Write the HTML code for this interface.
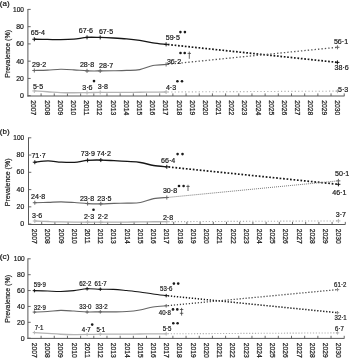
<!DOCTYPE html><html><head><meta charset="utf-8"><style>html,body{margin:0;padding:0;background:#fff;}svg{display:block;will-change:transform;}text{font-family:"Liberation Sans", sans-serif;fill:#1a1a1a;stroke:#1a1a1a;stroke-width:0.22px;}</style></head><body>
<svg width="350" height="359" viewBox="0 0 350 359">
<rect width="350" height="359" fill="#fff"/>
<text x="-0.2" y="3.80" font-size="8" dominant-baseline="central" textLength="9.8" lengthAdjust="spacingAndGlyphs">(a)</text>
<text transform="translate(8.3,53.90) rotate(-90)" text-anchor="middle" font-size="7.1" dominant-baseline="central" textLength="47.7" lengthAdjust="spacingAndGlyphs" style="stroke-width:0.2px">Prevalence (%)</text>
<path d="M27.90,9.00 V96.50" stroke="#585858" stroke-width="1" fill="none"/>
<path d="M27.90,95.70 H30.70" stroke="#585858" stroke-width="0.9"/>
<text x="20.00" y="95.70" font-size="7.3" dominant-baseline="central" textLength="3.9" lengthAdjust="spacingAndGlyphs">0</text>
<path d="M27.90,78.44 H30.70" stroke="#585858" stroke-width="0.9"/>
<text x="16.30" y="78.44" font-size="7.3" dominant-baseline="central" textLength="7.6" lengthAdjust="spacingAndGlyphs">20</text>
<path d="M27.90,61.18 H30.70" stroke="#585858" stroke-width="0.9"/>
<text x="16.30" y="61.18" font-size="7.3" dominant-baseline="central" textLength="7.6" lengthAdjust="spacingAndGlyphs">40</text>
<path d="M27.90,43.92 H30.70" stroke="#585858" stroke-width="0.9"/>
<text x="16.30" y="43.92" font-size="7.3" dominant-baseline="central" textLength="7.6" lengthAdjust="spacingAndGlyphs">60</text>
<path d="M27.90,26.66 H30.70" stroke="#585858" stroke-width="0.9"/>
<text x="16.30" y="26.66" font-size="7.3" dominant-baseline="central" textLength="7.6" lengthAdjust="spacingAndGlyphs">80</text>
<path d="M27.90,9.40 H30.70" stroke="#585858" stroke-width="0.9"/>
<text x="13.00" y="9.40" font-size="7.3" dominant-baseline="central" textLength="10.9" lengthAdjust="spacingAndGlyphs">100</text>
<path d="M27.40,96.00 H344.50" stroke="#585858" stroke-width="1" fill="none"/>
<path d="M41.08,96.00 V93.40" stroke="#585858" stroke-width="0.9"/>
<path d="M54.26,96.00 V93.40" stroke="#585858" stroke-width="0.9"/>
<path d="M67.44,96.00 V93.40" stroke="#585858" stroke-width="0.9"/>
<path d="M80.62,96.00 V93.40" stroke="#585858" stroke-width="0.9"/>
<path d="M93.80,96.00 V93.40" stroke="#585858" stroke-width="0.9"/>
<path d="M106.98,96.00 V93.40" stroke="#585858" stroke-width="0.9"/>
<path d="M120.16,96.00 V93.40" stroke="#585858" stroke-width="0.9"/>
<path d="M133.34,96.00 V93.40" stroke="#585858" stroke-width="0.9"/>
<path d="M146.52,96.00 V93.40" stroke="#585858" stroke-width="0.9"/>
<path d="M159.70,96.00 V93.40" stroke="#585858" stroke-width="0.9"/>
<path d="M172.88,96.00 V93.40" stroke="#585858" stroke-width="0.9"/>
<path d="M186.06,96.00 V93.40" stroke="#585858" stroke-width="0.9"/>
<path d="M199.24,96.00 V93.40" stroke="#585858" stroke-width="0.9"/>
<path d="M212.42,96.00 V93.40" stroke="#585858" stroke-width="0.9"/>
<path d="M225.60,96.00 V93.40" stroke="#585858" stroke-width="0.9"/>
<path d="M238.78,96.00 V93.40" stroke="#585858" stroke-width="0.9"/>
<path d="M251.96,96.00 V93.40" stroke="#585858" stroke-width="0.9"/>
<path d="M265.14,96.00 V93.40" stroke="#585858" stroke-width="0.9"/>
<path d="M278.32,96.00 V93.40" stroke="#585858" stroke-width="0.9"/>
<path d="M291.50,96.00 V93.40" stroke="#585858" stroke-width="0.9"/>
<path d="M304.68,96.00 V93.40" stroke="#585858" stroke-width="0.9"/>
<path d="M317.86,96.00 V93.40" stroke="#585858" stroke-width="0.9"/>
<path d="M331.04,96.00 V93.40" stroke="#585858" stroke-width="0.9"/>
<path d="M344.22,96.00 V93.40" stroke="#585858" stroke-width="0.9"/>
<text transform="translate(33.95,100.30) rotate(90)" font-size="7.50" dominant-baseline="central" textLength="15.0" lengthAdjust="spacingAndGlyphs">2007</text>
<text transform="translate(47.14,100.30) rotate(90)" font-size="7.50" dominant-baseline="central" textLength="15.0" lengthAdjust="spacingAndGlyphs">2008</text>
<text transform="translate(60.33,100.30) rotate(90)" font-size="7.50" dominant-baseline="central" textLength="15.0" lengthAdjust="spacingAndGlyphs">2009</text>
<text transform="translate(73.52,100.30) rotate(90)" font-size="7.50" dominant-baseline="central" textLength="15.0" lengthAdjust="spacingAndGlyphs">2010</text>
<text transform="translate(86.71,100.30) rotate(90)" font-size="7.50" dominant-baseline="central" textLength="15.0" lengthAdjust="spacingAndGlyphs">2011</text>
<text transform="translate(99.90,100.30) rotate(90)" font-size="7.50" dominant-baseline="central" textLength="15.0" lengthAdjust="spacingAndGlyphs">2012</text>
<text transform="translate(113.09,100.30) rotate(90)" font-size="7.50" dominant-baseline="central" textLength="15.0" lengthAdjust="spacingAndGlyphs">2013</text>
<text transform="translate(126.28,100.30) rotate(90)" font-size="7.50" dominant-baseline="central" textLength="15.0" lengthAdjust="spacingAndGlyphs">2014</text>
<text transform="translate(139.47,100.30) rotate(90)" font-size="7.50" dominant-baseline="central" textLength="15.0" lengthAdjust="spacingAndGlyphs">2015</text>
<text transform="translate(152.66,100.30) rotate(90)" font-size="7.50" dominant-baseline="central" textLength="15.0" lengthAdjust="spacingAndGlyphs">2016</text>
<text transform="translate(165.85,100.30) rotate(90)" font-size="7.50" dominant-baseline="central" textLength="15.0" lengthAdjust="spacingAndGlyphs">2017</text>
<text transform="translate(179.04,100.30) rotate(90)" font-size="7.50" dominant-baseline="central" textLength="15.0" lengthAdjust="spacingAndGlyphs">2018</text>
<text transform="translate(192.23,100.30) rotate(90)" font-size="7.50" dominant-baseline="central" textLength="15.0" lengthAdjust="spacingAndGlyphs">2019</text>
<text transform="translate(205.42,100.30) rotate(90)" font-size="7.50" dominant-baseline="central" textLength="15.0" lengthAdjust="spacingAndGlyphs">2020</text>
<text transform="translate(218.61,100.30) rotate(90)" font-size="7.50" dominant-baseline="central" textLength="15.0" lengthAdjust="spacingAndGlyphs">2021</text>
<text transform="translate(231.80,100.30) rotate(90)" font-size="7.50" dominant-baseline="central" textLength="15.0" lengthAdjust="spacingAndGlyphs">2022</text>
<text transform="translate(244.99,100.30) rotate(90)" font-size="7.50" dominant-baseline="central" textLength="15.0" lengthAdjust="spacingAndGlyphs">2023</text>
<text transform="translate(258.18,100.30) rotate(90)" font-size="7.50" dominant-baseline="central" textLength="15.0" lengthAdjust="spacingAndGlyphs">2024</text>
<text transform="translate(271.37,100.30) rotate(90)" font-size="7.50" dominant-baseline="central" textLength="15.0" lengthAdjust="spacingAndGlyphs">2025</text>
<text transform="translate(284.56,100.30) rotate(90)" font-size="7.50" dominant-baseline="central" textLength="15.0" lengthAdjust="spacingAndGlyphs">2026</text>
<text transform="translate(297.75,100.30) rotate(90)" font-size="7.50" dominant-baseline="central" textLength="15.0" lengthAdjust="spacingAndGlyphs">2027</text>
<text transform="translate(310.94,100.30) rotate(90)" font-size="7.50" dominant-baseline="central" textLength="15.0" lengthAdjust="spacingAndGlyphs">2028</text>
<text transform="translate(324.13,100.30) rotate(90)" font-size="7.50" dominant-baseline="central" textLength="15.0" lengthAdjust="spacingAndGlyphs">2029</text>
<text transform="translate(337.32,100.30) rotate(90)" font-size="7.50" dominant-baseline="central" textLength="15.0" lengthAdjust="spacingAndGlyphs">2030</text>
<path d="M34.30,39.26 C36.50,39.29 43.09,39.36 47.48,39.43 C51.87,39.50 56.27,39.73 60.66,39.69 C65.05,39.65 69.45,39.56 73.84,39.17 C78.23,38.79 82.63,37.65 87.02,37.36 C91.41,37.07 95.81,37.35 100.20,37.45 C104.59,37.55 108.99,37.74 113.38,37.97 C117.77,38.20 122.17,38.43 126.56,38.83 C130.95,39.23 135.35,39.72 139.74,40.38 C144.13,41.04 148.53,42.14 152.92,42.80 C157.31,43.46 163.90,44.09 166.10,44.35" stroke="#151515" stroke-width="1.35" fill="none"/>
<path d="M167.80,44.53 L337.44,62.39" stroke="#151515" stroke-width="1.70" stroke-dasharray="1.7 1.73" fill="none"/>
<path d="M32.30,39.26 H36.30 M34.30,37.26 V41.26" stroke="#151515" stroke-width="1"/>
<path d="M85.02,37.36 H89.02 M87.02,35.36 V39.36" stroke="#151515" stroke-width="1"/>
<path d="M98.20,37.45 H102.20 M100.20,35.45 V39.45" stroke="#151515" stroke-width="1"/>
<path d="M164.10,44.35 H168.10 M166.10,42.35 V46.35" stroke="#151515" stroke-width="1"/>
<path d="M335.44,62.39 H339.44 M337.44,60.39 V64.39" stroke="#151515" stroke-width="1"/>
<path d="M34.30,70.50 C36.50,70.44 43.09,70.36 47.48,70.16 C51.87,69.95 56.27,69.35 60.66,69.29 C65.05,69.23 69.45,69.55 73.84,69.81 C78.23,70.07 82.63,70.66 87.02,70.85 C91.41,71.03 95.81,70.95 100.20,70.93 C104.59,70.92 108.99,70.85 113.38,70.76 C117.77,70.67 122.17,70.60 126.56,70.41 C130.95,70.23 135.35,70.46 139.74,69.64 C144.13,68.82 148.53,66.36 152.92,65.50 C157.31,64.63 163.90,64.63 166.10,64.46" stroke="#656565" stroke-width="1.15" fill="none"/>
<path d="M167.80,64.29 L337.44,47.29" stroke="#555555" stroke-width="1.30" stroke-dasharray="1.4 2.03" fill="none"/>
<path d="M32.30,70.50 H36.30 M34.30,68.50 V72.50" stroke="#656565" stroke-width="1"/>
<path d="M85.02,70.85 H89.02 M87.02,68.85 V72.85" stroke="#656565" stroke-width="1"/>
<path d="M98.20,70.93 H102.20 M100.20,68.93 V72.93" stroke="#656565" stroke-width="1"/>
<path d="M164.10,64.46 H168.10 M166.10,62.46 V66.46" stroke="#656565" stroke-width="1"/>
<path d="M335.44,47.29 H339.44 M337.44,45.29 V49.29" stroke="#656565" stroke-width="1"/>
<path d="M34.30,90.95 C36.50,91.08 43.09,91.46 47.48,91.73 C51.87,92.00 56.27,92.42 60.66,92.59 C65.05,92.77 69.45,92.77 73.84,92.77 C78.23,92.77 82.63,92.65 87.02,92.59 C91.41,92.54 95.81,92.45 100.20,92.42 C104.59,92.39 108.99,92.43 113.38,92.42 C117.77,92.41 122.17,92.36 126.56,92.33 C130.95,92.31 135.35,92.29 139.74,92.25 C144.13,92.20 148.53,92.12 152.92,92.08 C157.31,92.03 163.90,92.00 166.10,91.99" stroke="#b4b4b4" stroke-width="1.30" fill="none"/>
<path d="M167.80,91.98 L337.44,91.13" stroke="#b0b0b0" stroke-width="1.10" stroke-dasharray="1.2 2.23" fill="none"/>
<path d="M32.30,90.95 H36.30 M34.30,88.95 V92.95" stroke="#b4b4b4" stroke-width="1"/>
<path d="M85.02,92.59 H89.02 M87.02,90.59 V94.59" stroke="#b4b4b4" stroke-width="1"/>
<path d="M98.20,92.42 H102.20 M100.20,90.42 V94.42" stroke="#b4b4b4" stroke-width="1"/>
<path d="M164.10,91.99 H168.10 M166.10,89.99 V93.99" stroke="#b4b4b4" stroke-width="1"/>
<path d="M335.44,91.13 H339.44 M337.44,89.13 V93.13" stroke="#b4b4b4" stroke-width="1"/>
<text x="30.80" y="32.50" font-size="7.60" dominant-baseline="central" textLength="14.21" lengthAdjust="spacingAndGlyphs">65·4</text>
<text x="78.80" y="30.55" font-size="7.60" dominant-baseline="central" textLength="14.21" lengthAdjust="spacingAndGlyphs">67·6</text>
<text x="98.90" y="31.10" font-size="7.60" dominant-baseline="central" textLength="14.21" lengthAdjust="spacingAndGlyphs">67·5</text>
<text x="165.70" y="37.80" font-size="7.60" dominant-baseline="central" textLength="14.21" lengthAdjust="spacingAndGlyphs">59·5</text>
<text x="32.10" y="64.50" font-size="7.60" dominant-baseline="central" textLength="14.21" lengthAdjust="spacingAndGlyphs">29·2</text>
<text x="79.90" y="64.30" font-size="7.60" dominant-baseline="central" textLength="14.21" lengthAdjust="spacingAndGlyphs">28·8</text>
<text x="99.10" y="65.60" font-size="7.60" dominant-baseline="central" textLength="14.21" lengthAdjust="spacingAndGlyphs">28·7</text>
<text x="166.90" y="61.10" font-size="7.60" dominant-baseline="central" textLength="14.21" lengthAdjust="spacingAndGlyphs">36·2</text>
<text x="32.90" y="86.60" font-size="7.60" dominant-baseline="central" textLength="10.26" lengthAdjust="spacingAndGlyphs">5·5</text>
<text x="82.30" y="87.40" font-size="7.60" dominant-baseline="central" textLength="10.26" lengthAdjust="spacingAndGlyphs">3·6</text>
<text x="97.80" y="86.40" font-size="7.60" dominant-baseline="central" textLength="10.26" lengthAdjust="spacingAndGlyphs">3·8</text>
<text x="165.90" y="87.50" font-size="7.60" dominant-baseline="central" textLength="10.26" lengthAdjust="spacingAndGlyphs">4·3</text>
<text x="333.90" y="41.20" font-size="7.60" dominant-baseline="central" textLength="14.21" lengthAdjust="spacingAndGlyphs">56·1</text>
<text x="334.60" y="67.90" font-size="7.60" dominant-baseline="central" textLength="14.21" lengthAdjust="spacingAndGlyphs">38·6</text>
<text x="338.00" y="89.00" font-size="7.60" dominant-baseline="central" textLength="10.26" lengthAdjust="spacingAndGlyphs">5·3</text>
<circle cx="180.40" cy="32.10" r="1.3" fill="#1a1a1a"/>
<circle cx="184.90" cy="32.10" r="1.3" fill="#1a1a1a"/>
<circle cx="180.50" cy="53.00" r="1.3" fill="#1a1a1a"/>
<circle cx="184.70" cy="53.00" r="1.3" fill="#1a1a1a"/>
<circle cx="177.40" cy="81.30" r="1.3" fill="#1a1a1a"/>
<circle cx="182.00" cy="81.30" r="1.3" fill="#1a1a1a"/>
<circle cx="94.00" cy="81.10" r="1.3" fill="#1a1a1a"/>
<path d="M189.30,51.60 V58.80 M187.60,53.40 H191.00" stroke="#333" stroke-width="0.75" fill="none"/>
<text x="-0.2" y="131.30" font-size="8" dominant-baseline="central" textLength="9.8" lengthAdjust="spacingAndGlyphs">(b)</text>
<text transform="translate(8.3,182.40) rotate(-90)" text-anchor="middle" font-size="7.1" dominant-baseline="central" textLength="47.7" lengthAdjust="spacingAndGlyphs" style="stroke-width:0.2px">Prevalence (%)</text>
<path d="M28.50,137.40 V225.00" stroke="#585858" stroke-width="1" fill="none"/>
<path d="M28.50,224.10 H31.30" stroke="#585858" stroke-width="0.9"/>
<text x="20.30" y="223.70" font-size="7.3" dominant-baseline="central" textLength="3.9" lengthAdjust="spacingAndGlyphs">0</text>
<path d="M28.50,206.84 H31.30" stroke="#585858" stroke-width="0.9"/>
<text x="16.60" y="206.44" font-size="7.3" dominant-baseline="central" textLength="7.6" lengthAdjust="spacingAndGlyphs">20</text>
<path d="M28.50,189.58 H31.30" stroke="#585858" stroke-width="0.9"/>
<text x="16.60" y="189.18" font-size="7.3" dominant-baseline="central" textLength="7.6" lengthAdjust="spacingAndGlyphs">40</text>
<path d="M28.50,172.32 H31.30" stroke="#585858" stroke-width="0.9"/>
<text x="16.60" y="171.92" font-size="7.3" dominant-baseline="central" textLength="7.6" lengthAdjust="spacingAndGlyphs">60</text>
<path d="M28.50,155.06 H31.30" stroke="#585858" stroke-width="0.9"/>
<text x="16.60" y="154.66" font-size="7.3" dominant-baseline="central" textLength="7.6" lengthAdjust="spacingAndGlyphs">80</text>
<path d="M28.50,137.80 H31.30" stroke="#585858" stroke-width="0.9"/>
<text x="13.30" y="137.40" font-size="7.3" dominant-baseline="central" textLength="10.9" lengthAdjust="spacingAndGlyphs">100</text>
<path d="M28.00,224.50 H345.30" stroke="#585858" stroke-width="1" fill="none"/>
<path d="M41.70,224.50 V221.90" stroke="#585858" stroke-width="0.9"/>
<path d="M54.90,224.50 V221.90" stroke="#585858" stroke-width="0.9"/>
<path d="M68.10,224.50 V221.90" stroke="#585858" stroke-width="0.9"/>
<path d="M81.30,224.50 V221.90" stroke="#585858" stroke-width="0.9"/>
<path d="M94.50,224.50 V221.90" stroke="#585858" stroke-width="0.9"/>
<path d="M107.70,224.50 V221.90" stroke="#585858" stroke-width="0.9"/>
<path d="M120.90,224.50 V221.90" stroke="#585858" stroke-width="0.9"/>
<path d="M134.10,224.50 V221.90" stroke="#585858" stroke-width="0.9"/>
<path d="M147.30,224.50 V221.90" stroke="#585858" stroke-width="0.9"/>
<path d="M160.50,224.50 V221.90" stroke="#585858" stroke-width="0.9"/>
<path d="M173.70,224.50 V221.90" stroke="#585858" stroke-width="0.9"/>
<path d="M186.90,224.50 V221.90" stroke="#585858" stroke-width="0.9"/>
<path d="M200.10,224.50 V221.90" stroke="#585858" stroke-width="0.9"/>
<path d="M213.30,224.50 V221.90" stroke="#585858" stroke-width="0.9"/>
<path d="M226.50,224.50 V221.90" stroke="#585858" stroke-width="0.9"/>
<path d="M239.70,224.50 V221.90" stroke="#585858" stroke-width="0.9"/>
<path d="M252.90,224.50 V221.90" stroke="#585858" stroke-width="0.9"/>
<path d="M266.10,224.50 V221.90" stroke="#585858" stroke-width="0.9"/>
<path d="M279.30,224.50 V221.90" stroke="#585858" stroke-width="0.9"/>
<path d="M292.50,224.50 V221.90" stroke="#585858" stroke-width="0.9"/>
<path d="M305.70,224.50 V221.90" stroke="#585858" stroke-width="0.9"/>
<path d="M318.90,224.50 V221.90" stroke="#585858" stroke-width="0.9"/>
<path d="M332.10,224.50 V221.90" stroke="#585858" stroke-width="0.9"/>
<path d="M345.30,224.50 V221.90" stroke="#585858" stroke-width="0.9"/>
<text transform="translate(34.60,228.70) rotate(90)" font-size="7.50" dominant-baseline="central" textLength="15.0" lengthAdjust="spacingAndGlyphs">2007</text>
<text transform="translate(47.83,228.70) rotate(90)" font-size="7.50" dominant-baseline="central" textLength="15.0" lengthAdjust="spacingAndGlyphs">2008</text>
<text transform="translate(61.06,228.70) rotate(90)" font-size="7.50" dominant-baseline="central" textLength="15.0" lengthAdjust="spacingAndGlyphs">2009</text>
<text transform="translate(74.29,228.70) rotate(90)" font-size="7.50" dominant-baseline="central" textLength="15.0" lengthAdjust="spacingAndGlyphs">2010</text>
<text transform="translate(87.52,228.70) rotate(90)" font-size="7.50" dominant-baseline="central" textLength="15.0" lengthAdjust="spacingAndGlyphs">2011</text>
<text transform="translate(100.75,228.70) rotate(90)" font-size="7.50" dominant-baseline="central" textLength="15.0" lengthAdjust="spacingAndGlyphs">2012</text>
<text transform="translate(113.98,228.70) rotate(90)" font-size="7.50" dominant-baseline="central" textLength="15.0" lengthAdjust="spacingAndGlyphs">2013</text>
<text transform="translate(127.21,228.70) rotate(90)" font-size="7.50" dominant-baseline="central" textLength="15.0" lengthAdjust="spacingAndGlyphs">2014</text>
<text transform="translate(140.44,228.70) rotate(90)" font-size="7.50" dominant-baseline="central" textLength="15.0" lengthAdjust="spacingAndGlyphs">2015</text>
<text transform="translate(153.67,228.70) rotate(90)" font-size="7.50" dominant-baseline="central" textLength="15.0" lengthAdjust="spacingAndGlyphs">2016</text>
<text transform="translate(166.90,228.70) rotate(90)" font-size="7.50" dominant-baseline="central" textLength="15.0" lengthAdjust="spacingAndGlyphs">2017</text>
<text transform="translate(180.13,228.70) rotate(90)" font-size="7.50" dominant-baseline="central" textLength="15.0" lengthAdjust="spacingAndGlyphs">2018</text>
<text transform="translate(193.36,228.70) rotate(90)" font-size="7.50" dominant-baseline="central" textLength="15.0" lengthAdjust="spacingAndGlyphs">2019</text>
<text transform="translate(206.59,228.70) rotate(90)" font-size="7.50" dominant-baseline="central" textLength="15.0" lengthAdjust="spacingAndGlyphs">2020</text>
<text transform="translate(219.82,228.70) rotate(90)" font-size="7.50" dominant-baseline="central" textLength="15.0" lengthAdjust="spacingAndGlyphs">2021</text>
<text transform="translate(233.05,228.70) rotate(90)" font-size="7.50" dominant-baseline="central" textLength="15.0" lengthAdjust="spacingAndGlyphs">2022</text>
<text transform="translate(246.28,228.70) rotate(90)" font-size="7.50" dominant-baseline="central" textLength="15.0" lengthAdjust="spacingAndGlyphs">2023</text>
<text transform="translate(259.51,228.70) rotate(90)" font-size="7.50" dominant-baseline="central" textLength="15.0" lengthAdjust="spacingAndGlyphs">2024</text>
<text transform="translate(272.74,228.70) rotate(90)" font-size="7.50" dominant-baseline="central" textLength="15.0" lengthAdjust="spacingAndGlyphs">2025</text>
<text transform="translate(285.97,228.70) rotate(90)" font-size="7.50" dominant-baseline="central" textLength="15.0" lengthAdjust="spacingAndGlyphs">2026</text>
<text transform="translate(299.20,228.70) rotate(90)" font-size="7.50" dominant-baseline="central" textLength="15.0" lengthAdjust="spacingAndGlyphs">2027</text>
<text transform="translate(312.43,228.70) rotate(90)" font-size="7.50" dominant-baseline="central" textLength="15.0" lengthAdjust="spacingAndGlyphs">2028</text>
<text transform="translate(325.66,228.70) rotate(90)" font-size="7.50" dominant-baseline="central" textLength="15.0" lengthAdjust="spacingAndGlyphs">2029</text>
<text transform="translate(338.89,228.70) rotate(90)" font-size="7.50" dominant-baseline="central" textLength="15.0" lengthAdjust="spacingAndGlyphs">2030</text>
<path d="M34.80,162.22 C37.00,162.01 43.60,160.94 48.00,160.93 C52.40,160.91 56.80,161.91 61.20,162.14 C65.60,162.37 70.00,162.61 74.40,162.31 C78.80,162.01 83.20,160.70 87.60,160.32 C92.00,159.95 96.40,160.01 100.80,160.07 C105.20,160.12 109.60,160.44 114.00,160.67 C118.40,160.90 122.80,161.14 127.20,161.45 C131.60,161.75 136.00,161.81 140.40,162.48 C144.80,163.16 149.20,164.78 153.60,165.50 C158.00,166.22 164.60,166.58 166.80,166.80" stroke="#151515" stroke-width="1.35" fill="none"/>
<path d="M168.50,166.97 L338.40,184.32" stroke="#151515" stroke-width="1.70" stroke-dasharray="1.7 1.79" fill="none"/>
<path d="M32.80,162.22 H36.80 M34.80,160.22 V164.22" stroke="#151515" stroke-width="1"/>
<path d="M85.60,160.32 H89.60 M87.60,158.32 V162.32" stroke="#151515" stroke-width="1"/>
<path d="M98.80,160.07 H102.80 M100.80,158.07 V162.07" stroke="#151515" stroke-width="1"/>
<path d="M164.80,166.80 H168.80 M166.80,164.80 V168.80" stroke="#151515" stroke-width="1"/>
<path d="M336.40,184.32 H340.40 M338.40,182.32 V186.32" stroke="#151515" stroke-width="1"/>
<path d="M34.80,202.70 C37.00,202.64 43.60,202.50 48.00,202.35 C52.40,202.21 56.80,201.81 61.20,201.83 C65.60,201.86 70.00,202.24 74.40,202.53 C78.80,202.81 83.20,203.34 87.60,203.56 C92.00,203.78 96.40,203.85 100.80,203.82 C105.20,203.79 109.60,203.50 114.00,203.39 C118.40,203.27 122.80,203.27 127.20,203.13 C131.60,202.99 136.00,203.27 140.40,202.53 C144.80,201.78 149.20,199.48 153.60,198.64 C158.00,197.81 164.60,197.71 166.80,197.52" stroke="#656565" stroke-width="1.15" fill="none"/>
<path d="M168.50,197.35 L338.40,180.86" stroke="#777777" stroke-width="1.00" stroke-dasharray="1.0 1.0" fill="none"/>
<path d="M32.80,202.70 H36.80 M34.80,200.70 V204.70" stroke="#656565" stroke-width="1"/>
<path d="M85.60,203.56 H89.60 M87.60,201.56 V205.56" stroke="#656565" stroke-width="1"/>
<path d="M98.80,203.82 H102.80 M100.80,201.82 V205.82" stroke="#656565" stroke-width="1"/>
<path d="M164.80,197.52 H168.80 M166.80,195.52 V199.52" stroke="#656565" stroke-width="1"/>
<path d="M336.40,180.86 H340.40 M338.40,178.86 V182.86" stroke="#656565" stroke-width="1"/>
<path d="M34.80,220.99 C37.00,221.08 43.60,221.35 48.00,221.51 C52.40,221.67 56.80,221.84 61.20,221.94 C65.60,222.04 70.00,222.09 74.40,222.12 C78.80,222.14 83.20,222.10 87.60,222.12 C92.00,222.13 96.40,222.20 100.80,222.20 C105.20,222.20 109.60,222.14 114.00,222.12 C118.40,222.09 122.80,222.06 127.20,222.03 C131.60,222.00 136.00,221.99 140.40,221.94 C144.80,221.90 149.20,221.81 153.60,221.77 C158.00,221.73 164.60,221.70 166.80,221.68" stroke="#b4b4b4" stroke-width="1.30" fill="none"/>
<path d="M168.50,221.68 L338.40,220.91" stroke="#b0b0b0" stroke-width="1.10" stroke-dasharray="1.2 1.9" fill="none"/>
<path d="M32.80,220.99 H36.80 M34.80,218.99 V222.99" stroke="#b4b4b4" stroke-width="1"/>
<path d="M85.60,222.12 H89.60 M87.60,220.12 V224.12" stroke="#b4b4b4" stroke-width="1"/>
<path d="M98.80,222.20 H102.80 M100.80,220.20 V224.20" stroke="#b4b4b4" stroke-width="1"/>
<path d="M164.80,221.68 H168.80 M166.80,219.68 V223.68" stroke="#b4b4b4" stroke-width="1"/>
<path d="M336.40,220.91 H340.40 M338.40,218.91 V222.91" stroke="#b4b4b4" stroke-width="1"/>
<text x="31.40" y="155.50" font-size="7.60" dominant-baseline="central" textLength="14.21" lengthAdjust="spacingAndGlyphs">71·7</text>
<text x="80.70" y="153.10" font-size="7.60" dominant-baseline="central" textLength="14.21" lengthAdjust="spacingAndGlyphs">73·9</text>
<text x="96.70" y="153.10" font-size="7.60" dominant-baseline="central" textLength="14.21" lengthAdjust="spacingAndGlyphs">74·2</text>
<text x="161.10" y="160.90" font-size="7.60" dominant-baseline="central" textLength="14.21" lengthAdjust="spacingAndGlyphs">66·4</text>
<text x="31.00" y="196.50" font-size="7.60" dominant-baseline="central" textLength="14.21" lengthAdjust="spacingAndGlyphs">24·8</text>
<text x="79.90" y="198.60" font-size="7.60" dominant-baseline="central" textLength="14.21" lengthAdjust="spacingAndGlyphs">23·8</text>
<text x="97.30" y="198.60" font-size="7.60" dominant-baseline="central" textLength="14.21" lengthAdjust="spacingAndGlyphs">23·5</text>
<text x="162.90" y="190.90" font-size="7.60" dominant-baseline="central" textLength="14.21" lengthAdjust="spacingAndGlyphs">30·8</text>
<text x="32.00" y="215.50" font-size="7.60" dominant-baseline="central" textLength="10.26" lengthAdjust="spacingAndGlyphs">3·6</text>
<text x="83.90" y="216.90" font-size="7.60" dominant-baseline="central" textLength="10.26" lengthAdjust="spacingAndGlyphs">2·3</text>
<text x="97.80" y="216.90" font-size="7.60" dominant-baseline="central" textLength="10.26" lengthAdjust="spacingAndGlyphs">2·2</text>
<text x="162.90" y="217.10" font-size="7.60" dominant-baseline="central" textLength="10.26" lengthAdjust="spacingAndGlyphs">2·8</text>
<text x="335.10" y="173.60" font-size="7.60" dominant-baseline="central" textLength="14.21" lengthAdjust="spacingAndGlyphs">50·1</text>
<text x="332.20" y="192.20" font-size="7.60" dominant-baseline="central" textLength="14.21" lengthAdjust="spacingAndGlyphs">46·1</text>
<text x="335.70" y="214.60" font-size="7.60" dominant-baseline="central" textLength="10.26" lengthAdjust="spacingAndGlyphs">3·7</text>
<circle cx="177.60" cy="154.10" r="1.3" fill="#1a1a1a"/>
<circle cx="182.50" cy="154.10" r="1.3" fill="#1a1a1a"/>
<circle cx="179.00" cy="186.00" r="1.3" fill="#1a1a1a"/>
<circle cx="183.60" cy="186.00" r="1.3" fill="#1a1a1a"/>
<circle cx="93.50" cy="209.70" r="1.3" fill="#1a1a1a"/>
<path d="M188.00,184.80 V191.00 M186.30,186.40 H189.70" stroke="#333" stroke-width="0.75" fill="none"/>
<text x="-0.2" y="256.90" font-size="8" dominant-baseline="central" textLength="9.8" lengthAdjust="spacingAndGlyphs">(c)</text>
<text transform="translate(8.3,298.90) rotate(-90)" text-anchor="middle" font-size="7.1" dominant-baseline="central" textLength="47.7" lengthAdjust="spacingAndGlyphs" style="stroke-width:0.2px">Prevalence (%)</text>
<path d="M27.90,258.40 V338.90" stroke="#585858" stroke-width="1" fill="none"/>
<path d="M27.90,338.20 H30.70" stroke="#585858" stroke-width="0.9"/>
<text x="20.80" y="338.20" font-size="7.3" dominant-baseline="central" textLength="3.9" lengthAdjust="spacingAndGlyphs">0</text>
<path d="M27.90,322.32 H30.70" stroke="#585858" stroke-width="0.9"/>
<text x="17.10" y="322.32" font-size="7.3" dominant-baseline="central" textLength="7.6" lengthAdjust="spacingAndGlyphs">20</text>
<path d="M27.90,306.44 H30.70" stroke="#585858" stroke-width="0.9"/>
<text x="17.10" y="306.44" font-size="7.3" dominant-baseline="central" textLength="7.6" lengthAdjust="spacingAndGlyphs">40</text>
<path d="M27.90,290.56 H30.70" stroke="#585858" stroke-width="0.9"/>
<text x="17.10" y="290.56" font-size="7.3" dominant-baseline="central" textLength="7.6" lengthAdjust="spacingAndGlyphs">60</text>
<path d="M27.90,274.68 H30.70" stroke="#585858" stroke-width="0.9"/>
<text x="17.10" y="274.68" font-size="7.3" dominant-baseline="central" textLength="7.6" lengthAdjust="spacingAndGlyphs">80</text>
<path d="M27.90,258.80 H30.70" stroke="#585858" stroke-width="0.9"/>
<text x="13.80" y="258.80" font-size="7.3" dominant-baseline="central" textLength="10.9" lengthAdjust="spacingAndGlyphs">100</text>
<path d="M27.40,338.40 H344.40" stroke="#585858" stroke-width="1" fill="none"/>
<path d="M41.08,338.40 V335.80" stroke="#585858" stroke-width="0.9"/>
<path d="M54.26,338.40 V335.80" stroke="#585858" stroke-width="0.9"/>
<path d="M67.44,338.40 V335.80" stroke="#585858" stroke-width="0.9"/>
<path d="M80.62,338.40 V335.80" stroke="#585858" stroke-width="0.9"/>
<path d="M93.80,338.40 V335.80" stroke="#585858" stroke-width="0.9"/>
<path d="M106.98,338.40 V335.80" stroke="#585858" stroke-width="0.9"/>
<path d="M120.16,338.40 V335.80" stroke="#585858" stroke-width="0.9"/>
<path d="M133.34,338.40 V335.80" stroke="#585858" stroke-width="0.9"/>
<path d="M146.52,338.40 V335.80" stroke="#585858" stroke-width="0.9"/>
<path d="M159.70,338.40 V335.80" stroke="#585858" stroke-width="0.9"/>
<path d="M172.88,338.40 V335.80" stroke="#585858" stroke-width="0.9"/>
<path d="M186.06,338.40 V335.80" stroke="#585858" stroke-width="0.9"/>
<path d="M199.24,338.40 V335.80" stroke="#585858" stroke-width="0.9"/>
<path d="M212.42,338.40 V335.80" stroke="#585858" stroke-width="0.9"/>
<path d="M225.60,338.40 V335.80" stroke="#585858" stroke-width="0.9"/>
<path d="M238.78,338.40 V335.80" stroke="#585858" stroke-width="0.9"/>
<path d="M251.96,338.40 V335.80" stroke="#585858" stroke-width="0.9"/>
<path d="M265.14,338.40 V335.80" stroke="#585858" stroke-width="0.9"/>
<path d="M278.32,338.40 V335.80" stroke="#585858" stroke-width="0.9"/>
<path d="M291.50,338.40 V335.80" stroke="#585858" stroke-width="0.9"/>
<path d="M304.68,338.40 V335.80" stroke="#585858" stroke-width="0.9"/>
<path d="M317.86,338.40 V335.80" stroke="#585858" stroke-width="0.9"/>
<path d="M331.04,338.40 V335.80" stroke="#585858" stroke-width="0.9"/>
<path d="M344.22,338.40 V335.80" stroke="#585858" stroke-width="0.9"/>
<text transform="translate(34.40,342.80) rotate(90)" font-size="7.50" dominant-baseline="central" textLength="15.0" lengthAdjust="spacingAndGlyphs">2007</text>
<text transform="translate(47.63,342.80) rotate(90)" font-size="7.50" dominant-baseline="central" textLength="15.0" lengthAdjust="spacingAndGlyphs">2008</text>
<text transform="translate(60.86,342.80) rotate(90)" font-size="7.50" dominant-baseline="central" textLength="15.0" lengthAdjust="spacingAndGlyphs">2009</text>
<text transform="translate(74.09,342.80) rotate(90)" font-size="7.50" dominant-baseline="central" textLength="15.0" lengthAdjust="spacingAndGlyphs">2010</text>
<text transform="translate(87.32,342.80) rotate(90)" font-size="7.50" dominant-baseline="central" textLength="15.0" lengthAdjust="spacingAndGlyphs">2011</text>
<text transform="translate(100.55,342.80) rotate(90)" font-size="7.50" dominant-baseline="central" textLength="15.0" lengthAdjust="spacingAndGlyphs">2012</text>
<text transform="translate(113.78,342.80) rotate(90)" font-size="7.50" dominant-baseline="central" textLength="15.0" lengthAdjust="spacingAndGlyphs">2013</text>
<text transform="translate(127.01,342.80) rotate(90)" font-size="7.50" dominant-baseline="central" textLength="15.0" lengthAdjust="spacingAndGlyphs">2014</text>
<text transform="translate(140.24,342.80) rotate(90)" font-size="7.50" dominant-baseline="central" textLength="15.0" lengthAdjust="spacingAndGlyphs">2015</text>
<text transform="translate(153.47,342.80) rotate(90)" font-size="7.50" dominant-baseline="central" textLength="15.0" lengthAdjust="spacingAndGlyphs">2016</text>
<text transform="translate(166.70,342.80) rotate(90)" font-size="7.50" dominant-baseline="central" textLength="15.0" lengthAdjust="spacingAndGlyphs">2017</text>
<text transform="translate(179.93,342.80) rotate(90)" font-size="7.50" dominant-baseline="central" textLength="15.0" lengthAdjust="spacingAndGlyphs">2018</text>
<text transform="translate(193.16,342.80) rotate(90)" font-size="7.50" dominant-baseline="central" textLength="15.0" lengthAdjust="spacingAndGlyphs">2019</text>
<text transform="translate(206.39,342.80) rotate(90)" font-size="7.50" dominant-baseline="central" textLength="15.0" lengthAdjust="spacingAndGlyphs">2020</text>
<text transform="translate(219.62,342.80) rotate(90)" font-size="7.50" dominant-baseline="central" textLength="15.0" lengthAdjust="spacingAndGlyphs">2021</text>
<text transform="translate(232.85,342.80) rotate(90)" font-size="7.50" dominant-baseline="central" textLength="15.0" lengthAdjust="spacingAndGlyphs">2022</text>
<text transform="translate(246.08,342.80) rotate(90)" font-size="7.50" dominant-baseline="central" textLength="15.0" lengthAdjust="spacingAndGlyphs">2023</text>
<text transform="translate(259.31,342.80) rotate(90)" font-size="7.50" dominant-baseline="central" textLength="15.0" lengthAdjust="spacingAndGlyphs">2024</text>
<text transform="translate(272.54,342.80) rotate(90)" font-size="7.50" dominant-baseline="central" textLength="15.0" lengthAdjust="spacingAndGlyphs">2025</text>
<text transform="translate(285.77,342.80) rotate(90)" font-size="7.50" dominant-baseline="central" textLength="15.0" lengthAdjust="spacingAndGlyphs">2026</text>
<text transform="translate(299.00,342.80) rotate(90)" font-size="7.50" dominant-baseline="central" textLength="15.0" lengthAdjust="spacingAndGlyphs">2027</text>
<text transform="translate(312.23,342.80) rotate(90)" font-size="7.50" dominant-baseline="central" textLength="15.0" lengthAdjust="spacingAndGlyphs">2028</text>
<text transform="translate(325.46,342.80) rotate(90)" font-size="7.50" dominant-baseline="central" textLength="15.0" lengthAdjust="spacingAndGlyphs">2029</text>
<text transform="translate(338.69,342.80) rotate(90)" font-size="7.50" dominant-baseline="central" textLength="15.0" lengthAdjust="spacingAndGlyphs">2030</text>
<path d="M34.40,290.64 C36.60,290.71 43.19,290.90 47.58,291.04 C51.97,291.17 56.37,291.50 60.76,291.43 C65.15,291.37 69.55,291.08 73.94,290.64 C78.33,290.20 82.73,289.05 87.12,288.81 C91.51,288.57 95.91,289.12 100.30,289.21 C104.69,289.30 109.09,289.14 113.48,289.37 C117.87,289.59 122.27,290.12 126.66,290.56 C131.05,291.00 135.45,291.42 139.84,291.99 C144.23,292.56 148.63,293.37 153.02,293.97 C157.41,294.58 164.00,295.36 166.20,295.64" stroke="#151515" stroke-width="1.05" fill="none"/>
<path d="M167.90,295.81 L337.54,312.71" stroke="#151515" stroke-width="1.50" stroke-dasharray="1.3 1.7" fill="none"/>
<path d="M32.70,290.64 H36.10 M34.40,288.94 V292.34" stroke="#151515" stroke-width="1"/>
<path d="M85.42,288.81 H88.82 M87.12,287.11 V290.51" stroke="#151515" stroke-width="1"/>
<path d="M98.60,289.21 H102.00 M100.30,287.51 V290.91" stroke="#151515" stroke-width="1"/>
<path d="M164.50,295.64 H167.90 M166.20,293.94 V297.34" stroke="#151515" stroke-width="1"/>
<path d="M335.84,312.71 H339.24 M337.54,311.01 V314.41" stroke="#8a8a8a" stroke-width="1"/>
<path d="M34.40,312.08 C36.60,311.98 43.19,311.80 47.58,311.52 C51.97,311.24 56.37,310.49 60.76,310.41 C65.15,310.33 69.55,310.78 73.94,311.05 C78.33,311.31 82.73,311.87 87.12,312.00 C91.51,312.13 95.91,311.87 100.30,311.84 C104.69,311.81 109.09,311.89 113.48,311.84 C117.87,311.79 122.27,311.83 126.66,311.52 C131.05,311.22 135.45,310.77 139.84,310.01 C144.23,309.26 148.63,307.70 153.02,307.00 C157.41,306.29 164.00,306.00 166.20,305.80" stroke="#656565" stroke-width="1.15" fill="none"/>
<path d="M167.90,305.64 L337.54,289.61" stroke="#404040" stroke-width="1.30" stroke-dasharray="1.2 1.8" fill="none"/>
<path d="M32.70,312.08 H36.10 M34.40,310.38 V313.78" stroke="#656565" stroke-width="1"/>
<path d="M85.42,312.00 H88.82 M87.12,310.30 V313.70" stroke="#656565" stroke-width="1"/>
<path d="M98.60,311.84 H102.00 M100.30,310.14 V313.54" stroke="#656565" stroke-width="1"/>
<path d="M164.50,305.80 H167.90 M166.20,304.10 V307.50" stroke="#656565" stroke-width="1"/>
<path d="M335.84,289.61 H339.24 M337.54,287.91 V291.31" stroke="#8a8a8a" stroke-width="1"/>
<path d="M34.40,332.56 C36.60,332.71 43.19,333.16 47.58,333.44 C51.97,333.71 56.37,334.04 60.76,334.23 C65.15,334.42 69.55,334.51 73.94,334.55 C78.33,334.59 82.73,334.53 87.12,334.47 C91.51,334.40 95.91,334.20 100.30,334.15 C104.69,334.10 109.09,334.16 113.48,334.15 C117.87,334.14 122.27,334.10 126.66,334.07 C131.05,334.04 135.45,334.02 139.84,333.99 C144.23,333.97 148.63,333.94 153.02,333.91 C157.41,333.89 164.00,333.85 166.20,333.83" stroke="#b4b4b4" stroke-width="1.30" fill="none"/>
<path d="M167.90,333.82 L337.54,332.88" stroke="#b0b0b0" stroke-width="1.10" stroke-dasharray="1.2 1.7" fill="none"/>
<path d="M32.70,332.56 H36.10 M34.40,330.86 V334.26" stroke="#b4b4b4" stroke-width="1"/>
<path d="M85.42,334.47 H88.82 M87.12,332.77 V336.17" stroke="#b4b4b4" stroke-width="1"/>
<path d="M98.60,334.15 H102.00 M100.30,332.45 V335.85" stroke="#b4b4b4" stroke-width="1"/>
<path d="M164.50,333.83 H167.90 M166.20,332.13 V335.53" stroke="#b4b4b4" stroke-width="1"/>
<path d="M335.84,332.88 H339.24 M337.54,331.18 V334.58" stroke="#b4b4b4" stroke-width="1"/>
<text x="33.80" y="284.60" font-size="7.20" dominant-baseline="central" textLength="12.21" lengthAdjust="spacingAndGlyphs">59·9</text>
<text x="79.20" y="283.60" font-size="7.20" dominant-baseline="central" textLength="12.21" lengthAdjust="spacingAndGlyphs">62·2</text>
<text x="94.50" y="283.60" font-size="7.20" dominant-baseline="central" textLength="12.21" lengthAdjust="spacingAndGlyphs">61·7</text>
<text x="160.10" y="288.90" font-size="7.20" dominant-baseline="central" textLength="12.21" lengthAdjust="spacingAndGlyphs">53·6</text>
<text x="33.80" y="307.00" font-size="7.20" dominant-baseline="central" textLength="12.21" lengthAdjust="spacingAndGlyphs">32·9</text>
<text x="79.30" y="306.60" font-size="7.20" dominant-baseline="central" textLength="12.21" lengthAdjust="spacingAndGlyphs">33·0</text>
<text x="95.50" y="306.60" font-size="7.20" dominant-baseline="central" textLength="12.21" lengthAdjust="spacingAndGlyphs">33·2</text>
<text x="158.80" y="312.50" font-size="7.20" dominant-baseline="central" textLength="12.21" lengthAdjust="spacingAndGlyphs">40·8</text>
<text x="34.70" y="327.90" font-size="7.20" dominant-baseline="central" textLength="8.82" lengthAdjust="spacingAndGlyphs">7·1</text>
<text x="81.80" y="329.50" font-size="7.20" dominant-baseline="central" textLength="8.82" lengthAdjust="spacingAndGlyphs">4·7</text>
<text x="96.40" y="329.50" font-size="7.20" dominant-baseline="central" textLength="8.82" lengthAdjust="spacingAndGlyphs">5·1</text>
<text x="162.70" y="328.50" font-size="7.20" dominant-baseline="central" textLength="8.82" lengthAdjust="spacingAndGlyphs">5·5</text>
<text x="334.10" y="284.10" font-size="7.20" dominant-baseline="central" textLength="12.21" lengthAdjust="spacingAndGlyphs">61·2</text>
<text x="334.50" y="317.60" font-size="7.20" dominant-baseline="central" textLength="12.21" lengthAdjust="spacingAndGlyphs">32·1</text>
<text x="335.10" y="328.90" font-size="7.20" dominant-baseline="central" textLength="8.82" lengthAdjust="spacingAndGlyphs">6·7</text>
<circle cx="173.90" cy="283.60" r="1.3" fill="#1a1a1a"/>
<circle cx="178.20" cy="283.60" r="1.3" fill="#1a1a1a"/>
<circle cx="173.00" cy="309.40" r="1.3" fill="#1a1a1a"/>
<circle cx="177.30" cy="309.40" r="1.3" fill="#1a1a1a"/>
<circle cx="173.30" cy="323.20" r="1.3" fill="#1a1a1a"/>
<circle cx="177.60" cy="323.20" r="1.3" fill="#1a1a1a"/>
<circle cx="92.20" cy="324.60" r="1.3" fill="#1a1a1a"/>
<path d="M181.60,307.90 V315.60 M179.90,309.50 H183.30 M179.90,313.30 H183.30" stroke="#333" stroke-width="0.75" fill="none"/>
</svg></body></html>
